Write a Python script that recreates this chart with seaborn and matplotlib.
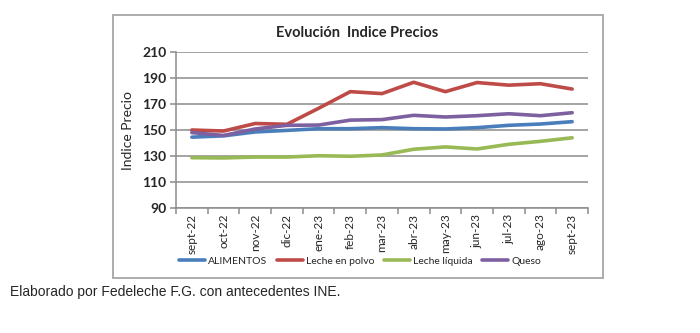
import matplotlib
matplotlib.use("Agg")
import matplotlib.pyplot as plt
from matplotlib.patches import Rectangle
import seaborn as sns
import pandas as pd
import numpy as np

meses = ["sept-22", "oct-22", "nov-22", "dic-22", "ene-23", "feb-23", "mar-23",
         "abr-23", "may-23", "jun-23", "jul-23", "ago-23", "sept-23"]
alimentos = [144.5, 145.5, 148.5, 149.7, 151.0, 151.0, 151.8, 151.0, 150.8, 151.8, 153.6, 154.6, 156.4]
leche_polvo = [150.0, 149.2, 155.0, 154.4, 166.7, 179.5, 178.0, 186.7, 179.5, 186.5, 184.5, 185.6, 181.5]
leche_liquida = [128.7, 128.5, 129.2, 129.2, 130.2, 129.8, 130.8, 135.2, 137.0, 135.4, 139.0, 141.3, 144.0]
queso = [148.0, 145.8, 150.8, 153.6, 153.8, 157.6, 158.0, 161.3, 160.0, 161.0, 162.5, 161.0, 163.3]

series = {
    "ALIMENTOS": alimentos,
    "Leche en polvo": leche_polvo,
    "Leche líquida": leche_liquida,
    "Queso": queso,
}
colores = ["#4A7EBB", "#BE4B48", "#98B954", "#7D60A0"]

df = pd.concat(
    [pd.DataFrame({"pos": np.arange(len(meses)), "valor": v, "serie": k}) for k, v in series.items()],
    ignore_index=True,
)

sns.set_theme(style="white")
plt.rcParams["font.family"] = ["Lato", "DejaVu Sans"]

fig = plt.figure(figsize=(7.0, 3.33), dpi=100)
fig.patch.set_facecolor("white")

# outer chart frame
fig.add_artist(Rectangle((113 / 700, 1 - 278 / 333), 490 / 700, 263 / 333,
                         transform=fig.transFigure, fill=False,
                         edgecolor="#A6A6A6", linewidth=1.3))

ax = fig.add_axes([176 / 700, 1 - 208 / 333, 412 / 700, 156 / 333])
sns.lineplot(data=df, x="pos", y="valor", hue="serie", palette=colores,
             linewidth=2.6, ax=ax, legend=True, sort=False)

ax.set_xlim(-0.5, len(meses) - 0.5)
ax.set_ylim(90, 210)
ax.set_yticks(range(90, 211, 20))
ax.yaxis.grid(True, color="#8C8C8C", linewidth=1.1)
ax.set_axisbelow(True)
ax.set_xticks(np.arange(len(meses)))
ax.set_xticklabels(meses, rotation=90, fontsize=8.5)
ax.set_xticks(np.arange(len(meses) + 1) - 0.5, minor=True)
ax.tick_params(axis="x", which="major", length=0, pad=4)
ax.tick_params(axis="x", which="minor", length=4, color="#8C8C8C", width=1.1, direction="out")
ax.tick_params(axis="y", length=4, color="#8C8C8C", width=1.1, direction="out",
               labelsize=10, pad=3)
ax.xaxis.set_tick_params(which="minor", bottom=True)
ax.yaxis.set_tick_params(left=True)
for lab in ax.get_yticklabels():
    lab.set_fontweight("bold")
for s in ["top", "right"]:
    ax.spines[s].set_visible(False)
for s in ["left", "bottom"]:
    ax.spines[s].set_color("#8C8C8C")
    ax.spines[s].set_linewidth(1.1)
ax.set_xlabel("")
ax.set_ylabel("Indice Precio", fontsize=10, labelpad=6)

handles, labels = ax.get_legend_handles_labels()
ax.legend(handles, labels, ncol=4, frameon=False, fontsize=7.5,
          loc="center", bbox_to_anchor=(360 / 700, 1 - 261 / 333),
          bbox_transform=fig.transFigure, handlelength=2.5, columnspacing=0.9,
          handletextpad=0.3)

fig.text(357 / 700, 1 - 33 / 333, "Evolución  Indice Precios", ha="center", va="center",
         fontsize=10.5, fontweight="bold")
fig.text(10 / 700, 1 - 292 / 333, "Elaborado por Fedeleche F.G. con antecedentes INE.",
         ha="left", va="center", fontsize=10, family=["Liberation Sans", "DejaVu Sans"])

fig.savefig("out.png", dpi=100, facecolor="white")
